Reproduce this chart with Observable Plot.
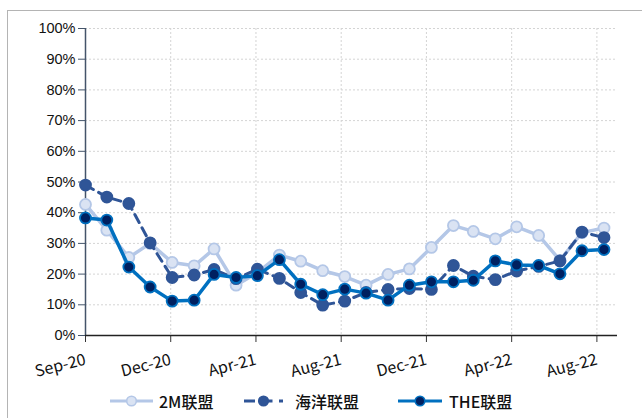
<!DOCTYPE html>
<html><head><meta charset="utf-8">
<script src="https://cdn.jsdelivr.net/npm/d3@7"></script>
<script src="https://cdn.jsdelivr.net/npm/@observablehq/plot@0.6"></script>
<style>
body{margin:0;background:#fff;}
#wrap{position:relative;width:642px;height:418px;overflow:hidden;background:#fff;}
#chart{position:absolute;left:0;top:0;}
#frame{position:absolute;left:7px;top:10px;width:700px;height:500px;border-left:1.5px solid #b4b4b4;border-top:1.5px solid #b4b4b4;pointer-events:none;}
#legend{position:absolute;top:390px;left:0;width:642px;height:22px;font-family:"Noto Sans CJK SC",sans-serif;font-size:16px;font-weight:500;color:#111;}
.sw{position:absolute;top:1px;}
.lt{position:absolute;top:0;line-height:22px;white-space:nowrap;}
</style></head>
<body><div id="wrap"><div id="chart"></div><div id="frame"></div><div id="legend"></div></div>
<script>
const months = ["2020-09-01","2020-10-01","2020-11-01","2020-12-01","2021-01-01","2021-02-01","2021-03-01","2021-04-01","2021-05-01","2021-06-01","2021-07-01","2021-08-01","2021-09-01","2021-10-01","2021-11-01","2021-12-01","2022-01-01","2022-02-01","2022-03-01","2022-04-01","2022-05-01","2022-06-01","2022-07-01","2022-08-01","2022-09-01"];
const series2M    = [42.7,34.3,25.4,30.0,23.8,22.7,28.2,16.4,20.5,26.2,24.2,21.1,19.2,16.4,19.9,21.7,28.7,35.8,33.9,31.5,35.4,32.6,24.5,33.5,35.0];
const seriesOcean = [49.0,45.1,43.0,30.2,18.9,19.7,21.5,18.5,21.6,18.6,14.0,9.9,11.2,14.0,15.0,15.3,15.0,22.8,19.3,18.2,21.0,22.5,24.3,33.7,31.9];
const seriesTHE   = [38.3,37.6,22.3,15.8,11.2,11.5,19.9,18.9,19.5,24.7,16.7,13.3,15.1,13.8,11.5,16.4,17.5,17.5,18.0,24.3,23.0,22.8,20.1,27.6,28.0];
const seriesNames = ["2M联盟","海洋联盟","THE联盟"];
const tickDates  = ["2020-09-01","2020-12-30","2021-04-29","2021-08-27","2021-12-25","2022-04-24","2022-08-22"];
const tickLabels = ["Sep-20","Dec-20","Apr-21","Aug-21","Dec-21","Apr-22","Aug-22"];
const yTicks = [0,10,20,30,40,50,60,70,80,90,100];
const xDomain = ["2020-09-01","2022-09-20"];

const styles = [
  {name: seriesNames[0], values: series2M, line: "#b4c7e7", fill: "#dae3f3", mstroke: "#b4c7e7", dash: null, lw: 3.5},
  {name: seriesNames[1], values: seriesOcean, line: "#2f5597", fill: "#2f5597", mstroke: "#2f5597", dash: "9,6", lw: 3},
  {name: seriesNames[2], values: seriesTHE, line: "#0070c0", fill: "#002060", mstroke: "#0070c0", dash: null, lw: 3.5}
];
const dates = months.map(m => new Date(m));
const tDates = tickDates.map(d => new Date(d));
const labelMap = new Map(tDates.map((d, i) => [+d, tickLabels[i]]));
const yT = yTicks.map(v => v / 100);

const marks = [
  Plot.ruleY(yT.slice(1), {stroke: "#d4d4d4", strokeDasharray: "2,2"}),
  Plot.ruleX(tDates.slice(1), {stroke: "#d4d4d4", strokeDasharray: "2,2"}),
  Plot.axisY({ticks: yT, tickFormat: d3.format(".0%"), tickSize: 7, tickPadding: 3, stroke: "#44546a", fill: "#111", fontSize: 14.5, fontFamily: "Liberation Sans, Arial, sans-serif", label: null}),
  Plot.axisX({ticks: tDates, tickFormat: d => labelMap.get(+d), tickSize: 7, tickPadding: 17, tickRotate: -14, stroke: "#333", fill: "#111", fontSize: 16, fontFamily: "Noto Sans CJK SC, sans-serif", label: null}),
  Plot.ruleX([new Date(xDomain[0])], {stroke: "#44546a", strokeWidth: 1.5}),
  Plot.ruleY([0], {stroke: "#222", strokeWidth: 1.5})
];
for (const s of styles) {
  const data = dates.map((d, i) => ({date: d, value: s.values[i] / 100}));
  marks.push(Plot.line(data, {x: "date", y: "value", stroke: s.line, strokeWidth: s.lw, strokeDasharray: s.dash || undefined}));
  marks.push(Plot.dot(data, {x: "date", y: "value", r: 5.5, fill: s.fill, stroke: s.mstroke, strokeWidth: 1.8}));
}

const chart = Plot.plot({
  width: 642, height: 418,
  marginLeft: 85, marginRight: 25, marginTop: 28, marginBottom: 83,
  x: {type: "utc", domain: xDomain.map(d => new Date(d))},
  y: {domain: [0, 1]},
  marks
});
document.getElementById("chart").appendChild(chart);

// legend: swatch start, swatch width, text start
const legendPos = [[110, 43, 159], [244, 39, 295], [398, 44, 449]];
const legend = document.getElementById("legend");
styles.forEach((s, i) => {
  const [sx, sw, tx] = legendPos[i];
  const svg = document.createElement("div");
  svg.className = "sw";
  svg.style.left = sx + "px";
  const cx = sw / 2;
  svg.innerHTML = `<svg width="${sw}" height="20"><line x1="0" y1="10" x2="${sw}" y2="10" stroke="${s.line}" stroke-width="3" ${s.dash ? `stroke-dasharray="11,6.5"` : ""}/><circle cx="${cx}" cy="10" r="4.8" fill="${s.fill}" stroke="${s.mstroke}" stroke-width="1.6"/></svg>`;
  legend.appendChild(svg);
  const t = document.createElement("div");
  t.className = "lt";
  t.style.left = tx + "px";
  t.textContent = s.name;
  legend.appendChild(t);
});
</script>
</body></html>
